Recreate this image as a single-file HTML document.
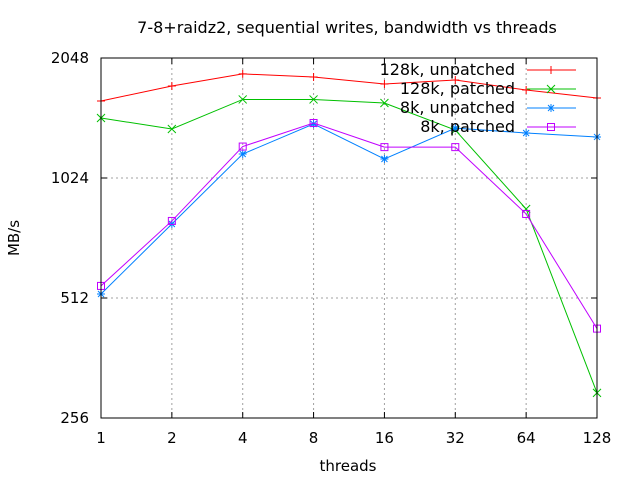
<!DOCTYPE html>
<html><head><meta charset="utf-8"><style>
body{margin:0;background:#fff}
svg{display:block;font-family:"DejaVu Sans","Liberation Sans",sans-serif}
</style></head><body>
<svg id="chart" width="640" height="480">
<rect width="640" height="480" fill="#fff"/>
<text x="347" y="33" font-size="16" text-anchor="middle">7-8+raidz2, sequential writes, bandwidth vs threads</text>
<text x="348" y="471" font-size="15" text-anchor="middle">threads</text>
<text transform="translate(19,238) rotate(-90)" font-size="15" text-anchor="middle">MB/s</text>
<g id="grid"></g><g id="series"></g><g id="legend"></g>
<rect x="101" y="58" width="496" height="360" fill="none" stroke="#000" stroke-width="1"/>
</svg>
<script>
const threads=[1,2,4,8,16,32,64,128];
const yTicks=[256,512,1024,2048];
const seriesNames=["128k, unpatched","128k, patched","8k, unpatched","8k, patched"];
const unpatched128k=[1598,1742,1868,1835,1763,1804,1702,1625];
const patched128k=[1448,1359,1612,1612,1579,1351,856,296];
const unpatched8k=[524,785,1176,1399,1143,1366,1328,1298];
const patched8k=[549,799,1228,1407,1224,1224,832,429];
const colors=["#ff0000","#00c000","#0080ff","#c000ff"];
const NS="http://www.w3.org/2000/svg";
const L=101,R=597,T=58,B=418;
const xs=i=>L+(R-L)*Math.log2(threads[i])/Math.log2(128);
const ys=v=>B-(B-T)*(Math.log2(v)-8)/3;
function mk(tag,a,parent){const e=document.createElementNS(NS,tag);for(const k in a)e.setAttribute(k,a[k]);parent.appendChild(e);return e;}
const grid=document.getElementById('grid'),ser=document.getElementById('series'),leg=document.getElementById('legend');
threads.forEach((t,i)=>{const x=xs(i);
 if(i>0&&i<threads.length-1){const g=mk('line',{x1:x,x2:x,y1:T,y2:B,stroke:'#a0a0a0','stroke-dasharray':'2,3'},grid);
 
 }
 mk('line',{x1:x,x2:x,y1:B,y2:B-6,stroke:'#000'},grid);mk('line',{x1:x,x2:x,y1:T,y2:T+6,stroke:'#000'},grid);
 const tx=mk('text',{x:x,y:443,'font-size':15,'text-anchor':'middle'},grid);tx.textContent=t;
 
 });
yTicks.forEach(v=>{const y=ys(v);
 if(v>256&&v<2048){const g=mk('line',{x1:L,x2:R,y1:y,y2:y,stroke:'#a0a0a0','stroke-dasharray':'2,3'},grid);
 
 }
 mk('line',{x1:L,x2:L+6,y1:y,y2:y,stroke:'#000'},grid);mk('line',{x1:R,x2:R-6,y1:y,y2:y,stroke:'#000'},grid);
 const tx=mk('text',{x:89,y:y+5,'font-size':15,'text-anchor':'end'},grid);tx.textContent=v;
 
 });
function marker(k,x,y,c,p){
 if(k===0){mk('path',{d:`M${x-4},${y}h8M${x},${y-4}v8`,stroke:c,fill:'none'},p);}
 else if(k===1){mk('path',{d:`M${x-4},${y-4}l8,8M${x-4},${y+4}l8,-8`,stroke:c,fill:'none'},p);}
 else if(k===2){mk('path',{d:`M${x-4},${y}h8M${x},${y-4}v8M${x-3},${y-3}l6,6M${x-3},${y+3}l6,-6`,stroke:c,fill:'none'},p);}
 else {mk('rect',{x:x-3.5,y:y-3.5,width:7,height:7,stroke:c,fill:'none'},p);}
}
[unpatched128k,patched128k,unpatched8k,patched8k].forEach((d,k)=>{
 const g=mk('g',{},ser);
 
 
 const pts=d.map((v,i)=>xs(i)+','+ys(v)).join(' ');
 mk('polyline',{points:pts,fill:'none',stroke:colors[k],'stroke-width':1},g);
 d.forEach((v,i)=>marker(k,xs(i),ys(v),colors[k],g));
 const ly=70+k*19;
 const lg=mk('g',{},leg);
 
 
 const tx=mk('text',{x:515,y:ly+5,'font-size':16,'text-anchor':'end'},lg);tx.textContent=seriesNames[k];
 mk('line',{x1:527,x2:576,y1:ly,y2:ly,stroke:colors[k]},lg);
 marker(k,551,ly,colors[k],lg);
});
</script>
</body></html>
